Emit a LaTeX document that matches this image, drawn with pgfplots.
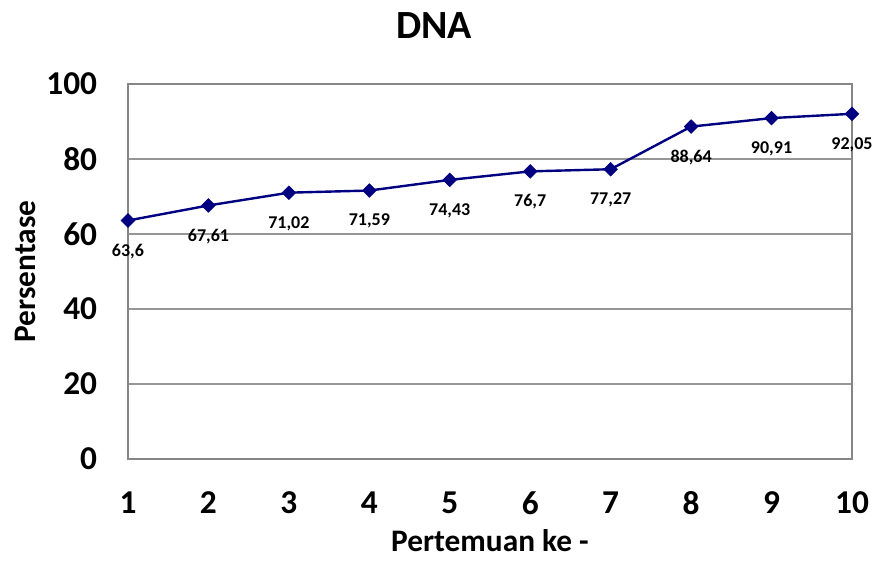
\documentclass[border=0pt]{standalone}
\usepackage{pgfplots}
\pgfplotsset{compat=1.18}
\usepackage{fontspec}
\setmainfont{Carlito}
\definecolor{navyline}{RGB}{0,0,128}
\definecolor{framegray}{RGB}{134,134,134}
\definecolor{gridgray}{RGB}{150,150,150}
\begin{document}
\begin{tikzpicture}
\begin{axis}[
  at={(0,0)}, anchor=south west,
  scale only axis,
  width=543pt, height=281.25pt,
  xmin=1, xmax=10, ymin=0, ymax=100,
  xtick={1,2,...,10}, ytick={0,20,...,100},
  axis line style={framegray, line width=1.4pt},
  major tick length=0pt,
  ymajorgrids, grid style={gridgray, line width=0.8pt},
  tick label style={font=\fontsize{25}{30}\selectfont\bfseries},
  /pgf/number format/assume math mode=true,
  xticklabel style={anchor=center, yshift=-33pt},
  yticklabel style={anchor=east, inner sep=0pt, xshift=-23pt},
  title={DNA},
  title style={font=\fontsize{30}{36}\selectfont\bfseries, at={(0.5,1)}, anchor=center, yshift=38pt, xshift=-42pt},
  xlabel={Pertemuan ke -},
  xlabel style={font=\fontsize{23.5}{28}\selectfont\bfseries, at={(0.5,0)}, anchor=center, yshift=-61pt, inner sep=1pt},
  ylabel={Persentase},
  ylabel style={font=\fontsize{23.5}{28}\selectfont\bfseries, at={(0,0.5)}, anchor=center, yshift=77pt},
  clip=false,
]
\addplot[navyline, line width=1.8pt, mark=square*, mark size=3.6pt,
  mark options={fill=navyline, draw=navyline, line width=0.5pt, rotate=45},
  point meta=explicit symbolic,
  nodes near coords,
  every node near coord/.append style={font=\fontsize{13.5}{16}\selectfont\bfseries, text=black, anchor=center, yshift=-23pt, rotate=0}]
  table[meta=lab] {
x y lab
1 63.6 63,6
2 67.61 67,61
3 71.02 71,02
4 71.59 71,59
5 74.43 74,43
6 76.7 76,7
7 77.27 77,27
8 88.64 88,64
9 90.91 90,91
10 92.05 92,05
};
\end{axis}
\pgfresetboundingbox
\path[use as bounding box] (-96pt,-76.5pt) rectangle (559.5pt,344.25pt);
\end{tikzpicture}
\end{document}
